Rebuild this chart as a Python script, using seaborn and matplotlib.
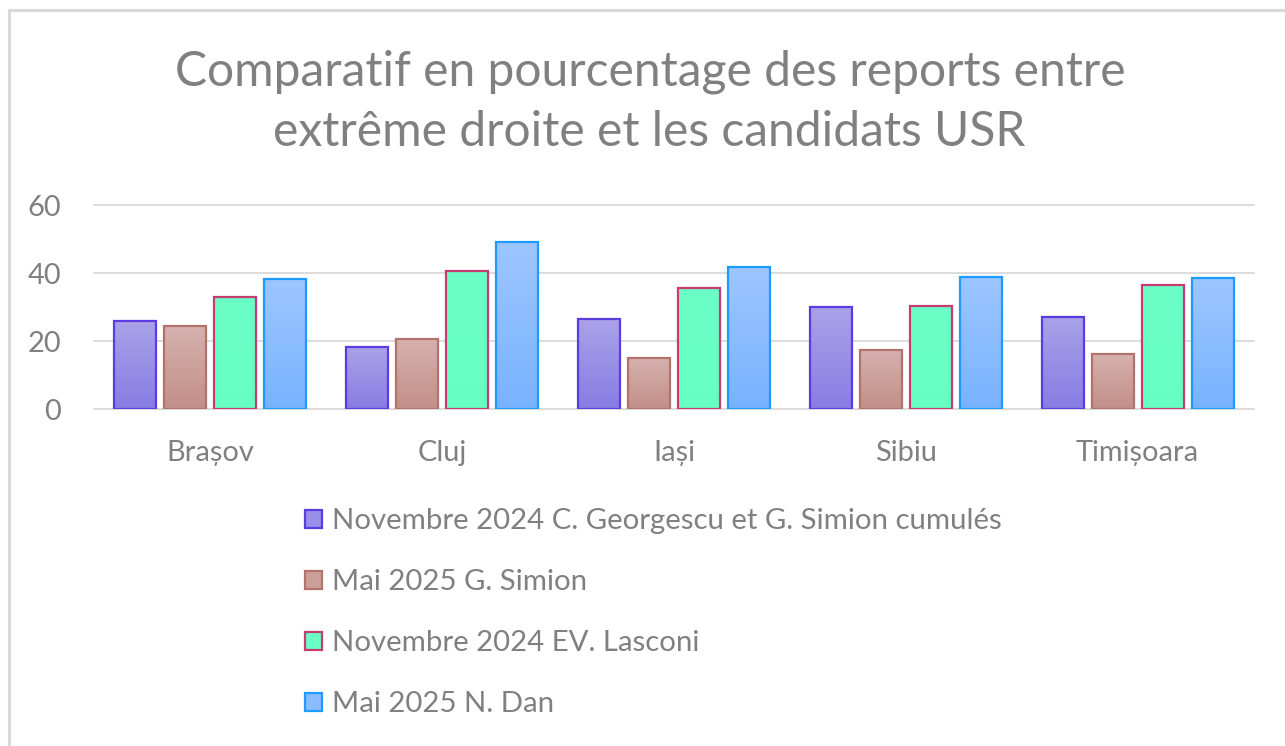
import numpy as np
import pandas as pd
import matplotlib
matplotlib.use("Agg")
import matplotlib.pyplot as plt
import seaborn as sns
from matplotlib.patches import Patch, Rectangle
from matplotlib.colors import LinearSegmentedColormap

# ---------------- data ----------------
cities = ["Brașov", "Cluj", "Iași", "Sibiu", "Timișoara"]
series = [
    "Novembre 2024 C. Georgescu et G. Simion cumulés",
    "Mai 2025 G. Simion",
    "Novembre 2024 EV. Lasconi",
    "Mai 2025 N. Dan",
]
georgescu_simion_2024 = [25.8, 18.2, 26.4, 30.1, 27.1]
simion_2025 = [24.4, 20.5, 14.9, 17.4, 16.1]
lasconi_2024 = [32.9, 40.7, 35.5, 30.3, 36.6]
dan_2025 = [38.1, 49.0, 41.8, 38.9, 38.4]
title_lines = ["Comparatif en pourcentage des reports entre",
               "extrême droite et les candidats USR"]
yticks = [0, 20, 40, 60]

values = [georgescu_simion_2024, simion_2025, lasconi_2024, dan_2025]
df = pd.DataFrame({
    "Ville": [c for _ in series for c in cities],
    "Série": [s for s in series for _ in cities],
    "Valeur": [v for vals in values for v in vals],
})

# ---------------- style ----------------
tops = ["#AAA2E8", "#D5B1AD", "#6CFFC8", "#9DC6FF"]
bottoms = ["#897CE3", "#C38F88", "#66FFC3", "#79B2FF"]
mids = ["#998FE6", "#CCA09A", "#69FFC6", "#8BBCFF"]
edges = ["#5A3CE0", "#B0746A", "#C83A72", "#1E9BFF"]
text_gray = "#808080"
grid_gray = "#D9D9D9"

sns.set_style("white")
fam = ["Lato", "DejaVu Sans"]
plt.rcParams["font.family"] = fam

W, H = 1285, 746
fig = plt.figure(figsize=(W / 100, H / 100), dpi=100)
renderer = fig.canvas.get_renderer()


def fit(text, target_px):
    t = fig.text(0, 0, text, fontsize=10)
    w = t.get_window_extent(renderer).width
    t.remove()
    return 10 * target_px / w


def px2fig(x, y):
    return x / W, 1 - y / H


ax = fig.add_axes([94.4 / W, 1 - 409 / H, (1253.5 - 94.4) / W, (409 - 205) / H])

sns.barplot(data=df, x="Ville", y="Valeur", hue="Série", palette=mids,
            width=0.863, gap=0.16, linewidth=1.6, legend=False, ax=ax,
            saturation=1, zorder=3)

ax.set_ylim(0, 60)
xlim = ax.get_xlim()
for i, cont in enumerate(ax.containers):
    cmap = LinearSegmentedColormap.from_list(f"g{i}", [bottoms[i], tops[i]])
    grad = np.linspace(0, 1, 64).reshape(-1, 1)
    for p in cont.patches:
        p.set_edgecolor(edges[i])
        p.set_facecolor("none")
        p.set_zorder(4)
        x0, y0 = p.get_x(), p.get_y()
        im = ax.imshow(grad, cmap=cmap, origin="lower", aspect="auto",
                       extent=[x0, x0 + p.get_width(), y0, y0 + p.get_height()],
                       zorder=3, interpolation="bilinear")
        im.set_clip_path(p)
ax.set_xlim(xlim)
ax.set_ylim(0, 60)

ax.set_yticks(yticks)
ax.yaxis.grid(True, color=grid_gray, linewidth=1.3)
for gl in ax.get_ygridlines():
    gl.set_clip_on(False)
ax.set_axisbelow(True)
for s in ax.spines.values():
    s.set_visible(False)
ax.set_xlabel("")
ax.set_ylabel("")

tick_fs = fit("Brașov", 88)
ax.tick_params(axis="both", length=0, labelsize=tick_fs, labelcolor=text_gray)
ax.tick_params(axis="y", pad=24)
ax.tick_params(axis="x", pad=22)

# title
t1_fs = fit(title_lines[0], 956)
fig.text(*px2fig(650, 85), title_lines[0], fontsize=t1_fs, color=text_gray,
         ha="center", va="baseline")
fig.text(*px2fig(649.5, 146.5), title_lines[1], fontsize=t1_fs, color=text_gray,
         ha="center", va="baseline")

# legend
leg_fs = fit("Mai 2025 G. Simion", 255)
fs_px = leg_fs * 100 / 72
tt = fig.text(0, 0, "Mai 2025 G. Simion", fontsize=leg_fs)
h_px = tt.get_window_extent(renderer).height
tt.remove()
handles = [Patch(facecolor=mids[i], edgecolor=edges[i], linewidth=1.6)
           for i in range(len(series))]
leg = fig.legend(handles, series, loc="upper left",
                 bbox_to_anchor=px2fig(305, 521 - h_px / 2),
                 frameon=False, fontsize=leg_fs, labelcolor=text_gray,
                 borderpad=0, borderaxespad=0,
                 handlelength=17 / fs_px, handleheight=17 / fs_px,
                 handletextpad=10 / fs_px,
                 labelspacing=(61 - h_px) / fs_px)

# outer frame
fig.patches.append(Rectangle(px2fig(9, 760), 1.2, (760 - 10) / H,
                             transform=fig.transFigure, fill=False,
                             edgecolor=grid_gray, linewidth=2.2))

fig.savefig("out.png", dpi=100)
